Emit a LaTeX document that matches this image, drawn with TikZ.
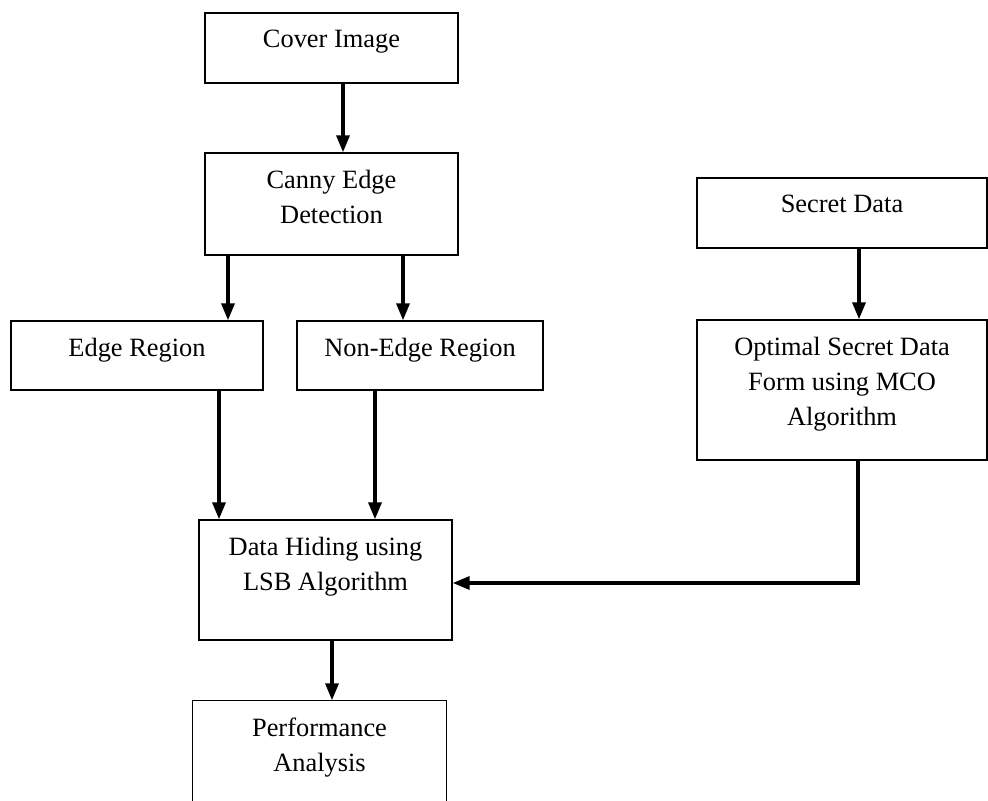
\documentclass[tikz,border=0pt]{standalone}
\usepackage{fontspec}
\setmainfont{Liberation Serif}
\usetikzlibrary{arrows.meta,positioning}

\begin{document}
\begin{tikzpicture}[x=0.5pt,y=-0.5pt,on grid,
    font=\fontsize{13.2pt}{17.5pt}\selectfont,
    block/.style={draw, line width=.7pt, inner sep=0pt},
    txt/.style={anchor=north, yshift=-8.5pt, align=center, inner sep=0pt},
    arr/.style={-{Triangle[width=6.5pt,length=8.5pt]}, line width=1.7pt}]
    \useasboundingbox (0,0) rectangle (988,801);
    \node[block, minimum width=126.5pt, minimum height=35pt, label={[txt]north:Cover Image}] (cover) at (331.5,48) {};
    \node[block, minimum width=126.5pt, minimum height=51pt, below=78pt of cover, label={[txt]north:Canny Edge\\Detection}] (canny) {};
    \node[block, minimum width=126pt, minimum height=34.5pt, below left=75.75pt and 97.25pt of canny, label={[txt]north:Edge Region}] (edge) {};
    \node[block, minimum width=123pt, minimum height=34.5pt, below right=75.75pt and 44.25pt of canny, label={[txt]north:Non-Edge Region}] (nonedge) {};
    \node[block, minimum width=126.5pt, minimum height=60pt, below right=112.25pt and 94.25pt of edge, label={[txt]north:Data Hiding using\\LSB Algorithm}] (hiding) {};
    \node[block, draw=none, minimum width=126.5pt, minimum height=50pt, below left=85.5pt and 3pt of hiding, label={[txt]north:Performance\\Analysis}] (perf) {};
    \node[block, minimum width=145pt, minimum height=35pt, label={[txt]north:Secret Data}] (secret) at (842,213) {};
    \node[block, minimum width=145pt, minimum height=70pt, below=88.5pt of secret, label={[txt]north:Optimal Secret Data\\Form using MCO\\Algorithm}] (optimal) {};
    % open box at the bottom edge
    \draw[line width=.7pt] (perf.south west) -- (perf.north west) -- (perf.north east) -- (perf.south east);

    \draw[arr] ([xshift=5.75pt]cover.south) -- ([xshift=5.75pt]canny.north);
    \draw[arr] ([xshift=-51.75pt]canny.south) -- ([xshift=45.5pt]edge.north);
    \draw[arr] ([xshift=35.75pt]canny.south) -- ([xshift=-8.5pt]nonedge.north);
    \draw[arr] ([xshift=41pt]edge.south) -- ([xshift=-53.25pt]hiding.north);
    \draw[arr] ([xshift=-22.5pt]nonedge.south) -- ([xshift=24.75pt]hiding.north);
    \draw[arr] ([xshift=8.5pt]secret.south) -- ([xshift=8.5pt]optimal.north);
    \draw[arr] ([xshift=8pt]optimal.south) |- ([yshift=-1.5pt]hiding.east);
    \draw[arr] ([xshift=3.25pt]hiding.south) -- ([xshift=6.25pt]perf.north);
\end{tikzpicture}
\end{document}
